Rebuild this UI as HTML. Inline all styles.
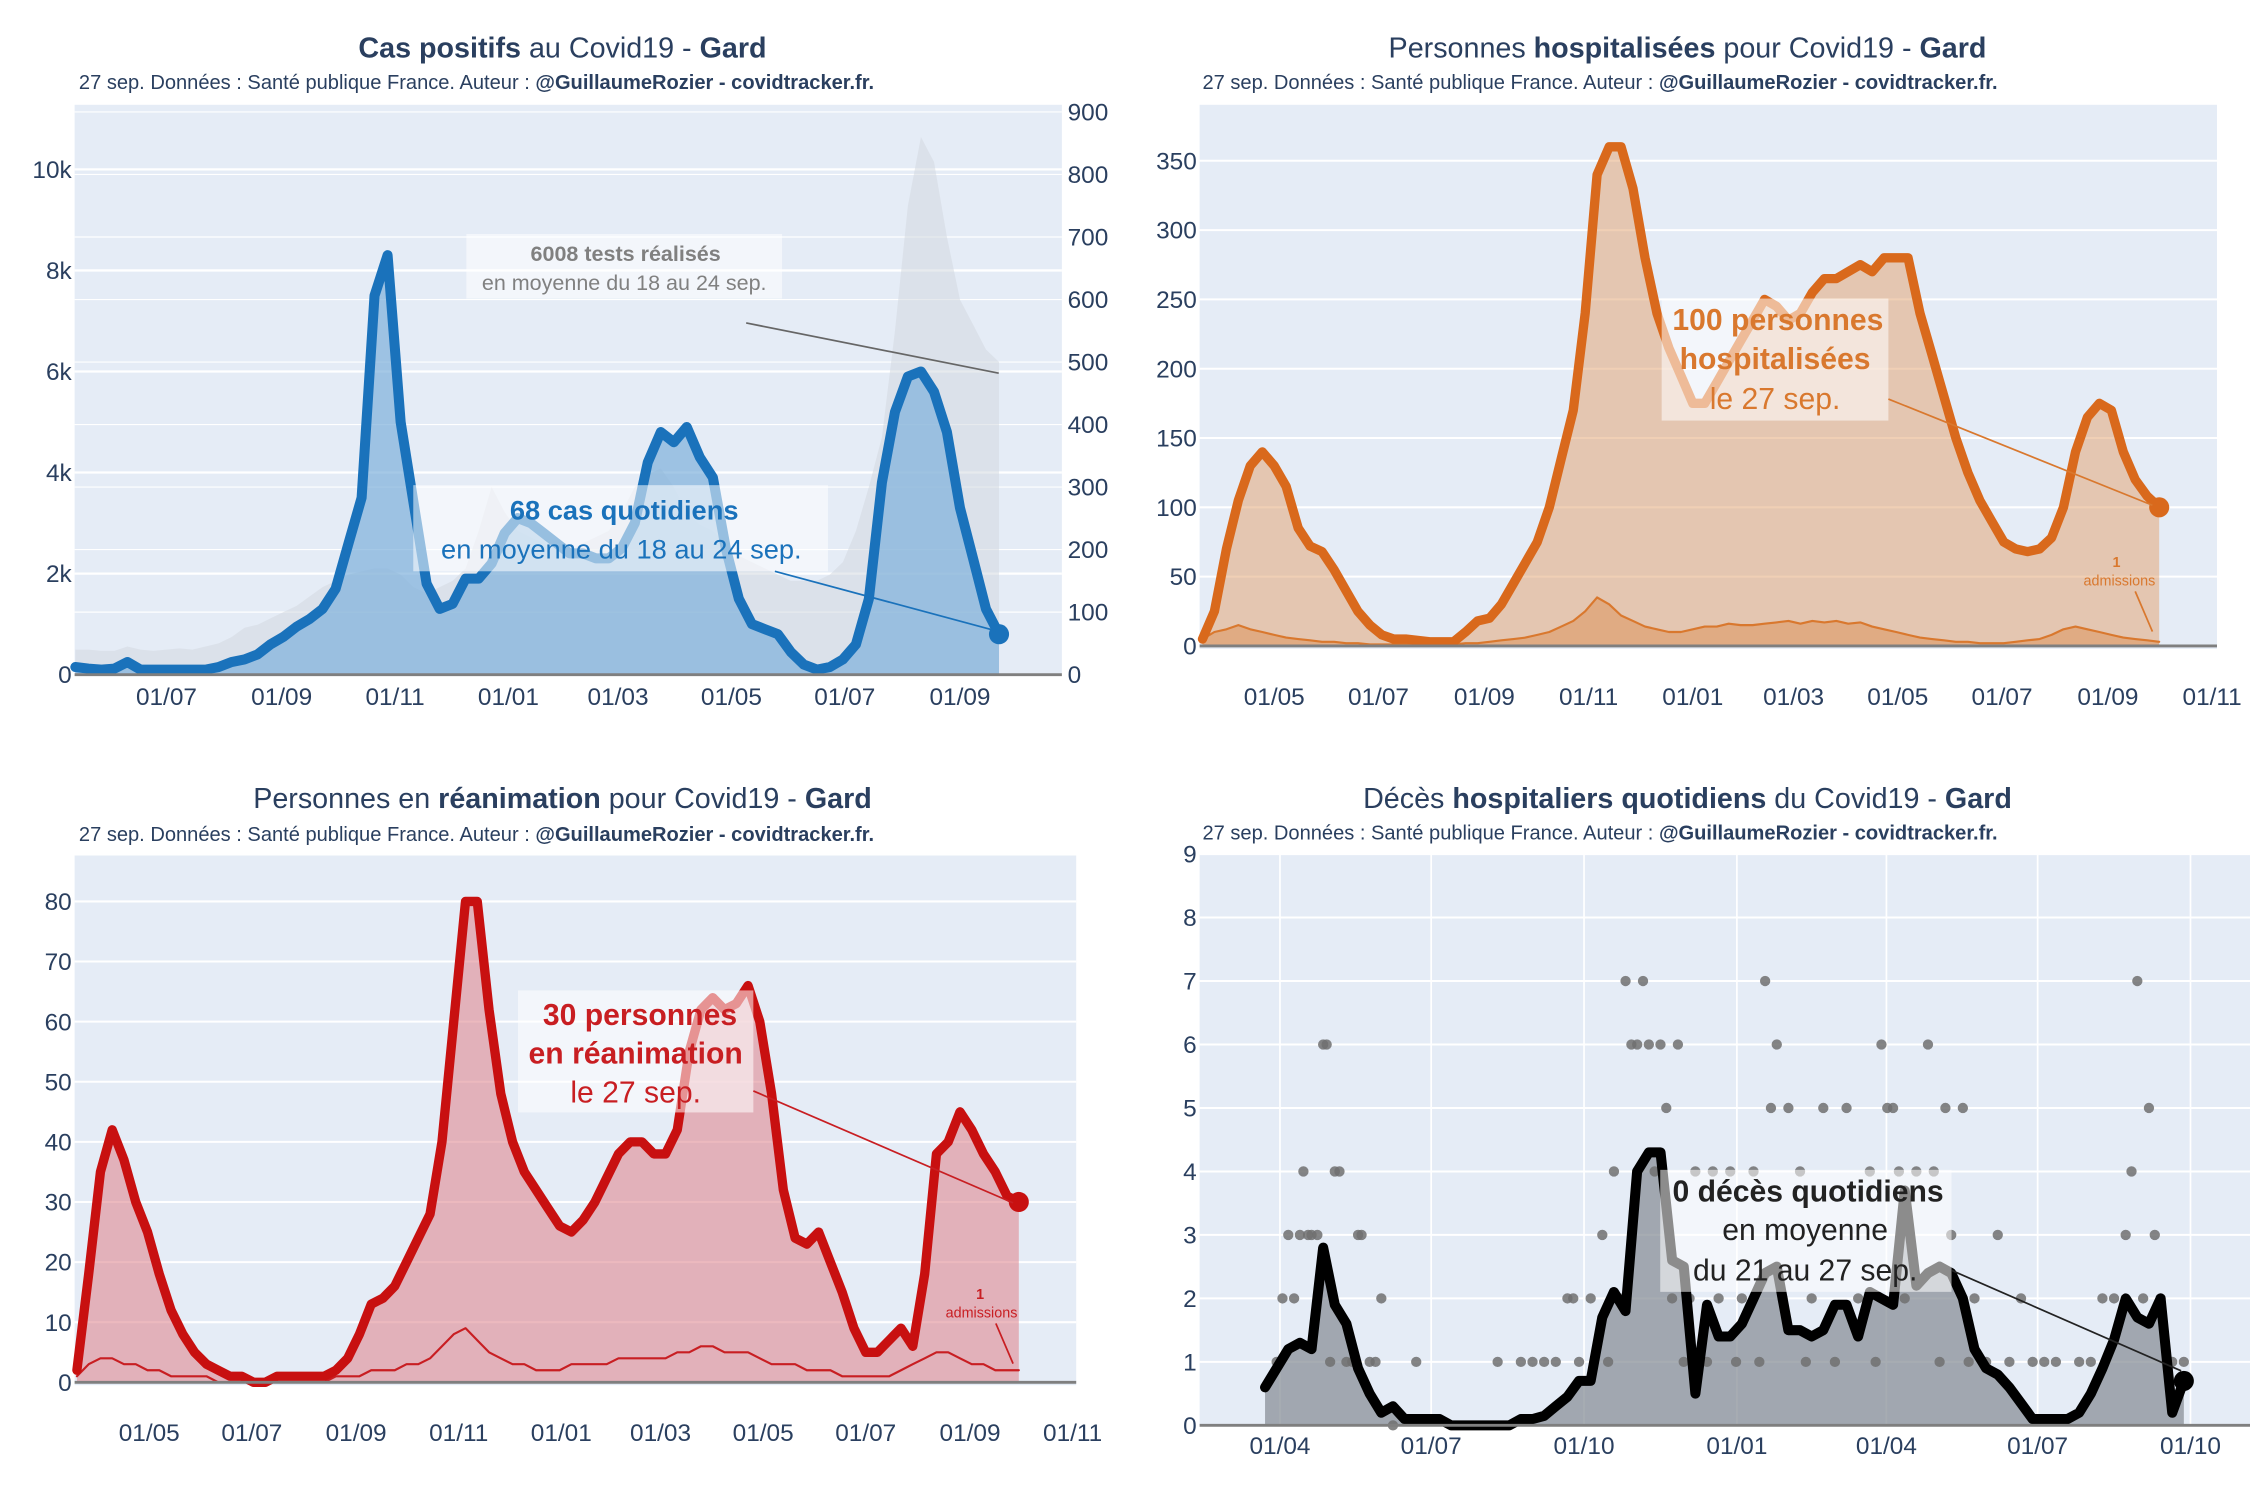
<!DOCTYPE html>
<html><head><meta charset="utf-8"><style>
html,body{margin:0;padding:0;background:#fff}
svg{display:block}
text{font-family:"Liberation Sans","DejaVu Sans",sans-serif;fill:#2a3f5f}
</style></head><body>
<svg id="svg" width="2250" height="1500" viewBox="0 0 1568 1045" preserveAspectRatio="none" xmlns="http://www.w3.org/2000/svg">
<rect x="0" y="0" width="1568" height="1045" fill="#fff"/>
<text x="392" y="40" text-anchor="middle" font-size="20"><tspan font-weight="bold">Cas positifs</tspan> au Covid19 - <tspan font-weight="bold">Gard</tspan></text>
<text x="55" y="62" font-size="14">27 sep. Données : Santé publique France. Auteur : <tspan font-weight="bold">@GuillaumeRozier - covidtracker.fr.</tspan></text>
<text x="1176" y="40" text-anchor="middle" font-size="20">Personnes <tspan font-weight="bold">hospitalisées</tspan> pour Covid19 - <tspan font-weight="bold">Gard</tspan></text>
<text x="838" y="62" font-size="14">27 sep. Données : Santé publique France. Auteur : <tspan font-weight="bold">@GuillaumeRozier - covidtracker.fr.</tspan></text>
<text x="392" y="563" text-anchor="middle" font-size="20">Personnes en <tspan font-weight="bold">réanimation</tspan> pour Covid19 - <tspan font-weight="bold">Gard</tspan></text>
<text x="55" y="586" font-size="14">27 sep. Données : Santé publique France. Auteur : <tspan font-weight="bold">@GuillaumeRozier - covidtracker.fr.</tspan></text>
<text x="1176" y="563" text-anchor="middle" font-size="20">Décès <tspan font-weight="bold">hospitaliers quotidiens</tspan> du Covid19 - <tspan font-weight="bold">Gard</tspan></text>
<text x="838" y="585" font-size="14">27 sep. Données : Santé publique France. Auteur : <tspan font-weight="bold">@GuillaumeRozier - covidtracker.fr.</tspan></text>
<g id="p1"></g>
<g id="p2"></g>
<g id="p3"></g>
<g id="p4"></g>
<g id="ann"></g>
</svg>
<script>
const casesStart = "2020-05-13";
const casesK = [0.15,0.12,0.1,0.12,0.25,0.1,0.1,0.1,0.1,0.1,0.1,0.15,0.25,0.3,0.4,0.6,0.75,0.95,1.1,1.3,1.7,2.6,3.5,7.5,8.3,5.0,3.4,1.8,1.3,1.4,1.9,1.9,2.2,2.8,3.1,3.0,2.8,2.6,2.4,2.4,2.3,2.3,2.5,3.0,4.2,4.8,4.6,4.9,4.3,3.9,2.5,1.5,1.0,0.9,0.8,0.45,0.2,0.1,0.15,0.3,0.6,1.5,3.8,5.2,5.9,6.0,5.6,4.8,3.3,2.3,1.3,0.8];
const testsH = [40,40,38,38,45,40,38,40,42,40,45,50,60,75,80,90,100,110,125,140,150,160,165,170,170,160,140,130,140,150,170,230,300,260,230,220,210,200,200,210,220,230,260,300,320,330,300,260,240,230,210,190,180,170,160,150,150,150,160,180,230,300,380,550,750,860,820,700,600,560,520,500];
const casesTickLabels = ["01/07","01/09","01/11","01/01","01/03","01/05","01/07","01/09"];
const casesTickDates = ["2020-07-01","2020-09-01","2020-11-01","2021-01-01","2021-03-01","2021-05-01","2021-07-01","2021-09-01"];
const casesYTicks = [0,2,4,6,8,10];
const testsYTicks = [0,100,200,300,400,500,600,700,800,900];

const hospStart = "2020-03-20";
const hosp = [5,25,70,105,130,140,130,115,85,72,68,55,40,25,15,8,5,5,4,3,3,3,10,18,20,30,45,60,75,100,135,170,240,340,360,360,330,280,240,215,195,175,175,190,205,220,235,250,245,235,240,255,265,265,270,275,270,280,280,280,240,210,180,150,125,105,90,75,70,68,70,78,100,140,165,175,170,140,120,108,100];
const hospAdm = [5,10,12,15,12,10,8,6,5,4,3,3,2,2,1,1,1,1,1,1,1,1,2,2,3,4,5,6,8,10,14,18,25,35,30,22,18,14,12,10,10,12,14,14,16,15,15,16,17,18,16,18,17,18,16,17,14,12,10,8,6,5,4,3,3,2,2,2,3,4,5,8,12,14,12,10,8,6,5,4,3];
const hospTickLabels = ["01/05","01/07","01/09","01/11","01/01","01/03","01/05","01/07","01/09","01/11"];
const hospTickDates = ["2020-05-01","2020-07-01","2020-09-01","2020-11-01","2021-01-01","2021-03-01","2021-05-01","2021-07-01","2021-09-01","2021-11-01"];
const hospYTicks = [0,50,100,150,200,250,300,350];

const reaStart = "2020-03-19";
const rea = [2,18,35,42,37,30,25,18,12,8,5,3,2,1,1,0,0,1,1,1,1,1,2,4,8,13,14,16,20,24,28,40,60,80,80,62,48,40,35,32,29,26,25,27,30,34,38,40,40,38,38,42,55,62,64,62,63,66,60,48,32,24,23,25,20,15,9,5,5,7,9,6,18,38,40,45,42,38,35,31,30];
const reaAdm = [1,3,4,4,3,3,2,2,1,1,1,1,0,0,0,0,0,0,0,0,0,0,1,1,1,2,2,2,3,3,4,6,8,9,7,5,4,3,3,2,2,2,3,3,3,3,4,4,4,4,4,5,5,6,6,5,5,5,4,3,3,3,2,2,2,1,1,1,1,1,2,3,4,5,5,4,3,3,2,2,2];
const reaTickLabels = hospTickLabels;
const reaTickDates = hospTickDates;
const reaYTicks = [0,10,20,30,40,50,60,70,80];

const deathStart = "2020-03-23";
const deaths = [0.6,0.9,1.2,1.3,1.2,2.8,1.9,1.6,0.9,0.5,0.2,0.3,0.1,0.1,0.1,0.1,0,0,0,0,0,0,0.1,0.1,0.15,0.3,0.45,0.7,0.7,1.7,2.1,1.8,4.0,4.3,4.3,2.6,2.5,0.5,1.9,1.4,1.4,1.6,2.0,2.4,2.5,1.5,1.5,1.4,1.5,1.9,1.9,1.4,2.1,2.0,1.9,3.7,2.2,2.4,2.5,2.4,2.0,1.2,0.9,0.8,0.6,0.35,0.1,0.1,0.1,0.1,0.2,0.5,0.9,1.35,2.0,1.7,1.6,2.0,0.2,0.7];
const deathDotWeek = [1,1.5,2,2.5,3,3.3,3.7,4,4.5,5,5.3,5.6,6,6.4,7,7.5,8,8.3,9,9.5,10,11,13,20,22,23,24,25,26,26.5,27,28,29,29.5,30,30.5,31,31.5,32,32.5,33,33.5,34,34.5,35,35.5,36,36.5,37,38,38.5,39,40,40.5,41,42,42.5,43,43.5,44,44.5,45,46,46.5,47,48,49,50,51,52,52.5,53,53.5,54,54.5,55,56,57,57.5,58,58.5,59,60,60.5,61,62,63,64,65,66,67,68,70,71,72,73,74,74.5,75,75.5,76,76.5,77,78,79];
const deathDotVal  = [1,2,3,2,3,4,3,3,3,6,6,1,4,4,1,1,3,3,1,1,2,0,1,1,1,1,1,1,2,2,1,2,3,1,4,2,7,6,6,7,6,4,6,5,2,6,1,2,4,1,4,2,4,1,2,4,1,7,5,6,2,5,4,1,2,5,1,5,2,4,1,6,5,5,4,2,4,6,4,1,5,3,5,1,2,1,3,1,2,1,1,1,1,1,2,2,3,4,7,2,5,3,2,1,1];
const deathTickLabels = ["01/04","01/07","01/10","01/01","01/04","01/07","01/10"];
const deathTickDates = ["2020-04-01","2020-07-01","2020-10-01","2021-01-01","2021-04-01","2021-07-01","2021-10-01"];
const deathYTicks = [0,1,2,3,4,5,6,7,8,9];

const NS="http://www.w3.org/2000/svg";
const DAY=86400000;
function ms(s){const p=s.split("-");return Date.UTC(+p[0],+p[1]-1,+p[2]);}
function mk(parent,tag,attrs){const e=document.createElementNS(NS,tag);for(const k in attrs)e.setAttribute(k,attrs[k]);parent.appendChild(e);return e;}
function timeScale(d0,x0,d1,x1){const a=ms(d0),b=ms(d1);return t=>x0+(t-a)/(b-a)*(x1-x0);}
function linScale(v0,y0,v1,y1){return v=>y0+(v-v0)/(v1-v0)*(y1-y0);}
function weeklyTimes(start,n){const s=ms(start);const r=[];for(let i=0;i<n;i++)r.push(s+i*7*DAY);return r;}
function linePath(xs,ys){return xs.map((x,i)=>(i?"L":"M")+x.toFixed(1)+","+ys[i].toFixed(1)).join("");}

function frame(g,x0,y0,x1,y1){
  const r=mk(g,"rect",{x:x0,y:y0,width:x1-x0,height:y1-y0,fill:"#e5ecf6"});
  
  
}
function yGrid(g,ticks,ys,x0,x1,labelX,anchor,fmt,grid,w){
  ticks.forEach(v=>{
    const y=ys(v);
    if(grid){const l=mk(g,"line",{x1:x0,x2:x1,y1:y,y2:y,stroke:"#fff","stroke-width":w||1.2});
      
      }
    const t=mk(g,"text",{x:labelX,y:y+6,"text-anchor":anchor,"font-size":"17"});
    t.textContent=fmt(v);
    
    
  });
}
function xTicks(g,labels,dates,xs,y,gridTop,gridBot){
  labels.forEach((lab,i)=>{
    const x=xs(ms(dates[i]));
    if(gridTop!==undefined){const l=mk(g,"line",{x1:x,x2:x,y1:gridTop,y2:gridBot,stroke:"#fff","stroke-width":1.2});
      
      }
    const t=mk(g,"text",{x:x,y:y,"text-anchor":"middle","font-size":"17"});
    t.textContent=lab;
    
    
  });
}
function area(g,xs,ys,base,fill,op,name){
  const d=linePath(xs,ys)+"L"+xs[xs.length-1].toFixed(1)+","+base+"L"+xs[0].toFixed(1)+","+base+"Z";
  const p=mk(g,"path",{d:d,fill:fill,"fill-opacity":op});
  
  
}
function line(g,xs,ys,stroke,w,name){
  const p=mk(g,"path",{d:linePath(xs,ys),fill:"none",stroke:stroke,"stroke-width":w,"stroke-linejoin":"round","stroke-linecap":"round"});
  
  
}
function zeroLine(g,x0,x1,y){const l=mk(g,"line",{x1:x0,x2:x1,y1:y,y2:y,stroke:"#7f7f7f","stroke-width":2});
  
  }
function endDot(g,x,y,c,r){const e=mk(g,"circle",{cx:x,cy:y,r:r,fill:c});
  
  }

(function(){
  const g=document.getElementById("p1");
  frame(g,52,73,740,470);
  const xs=timeScale("2020-07-01",116,"2021-09-01",669);
  const yL=linScale(0,470,10,118);
  const yR=linScale(0,470,900,78);
  yGrid(g,testsYTicks,yR,52,740,744,"start",v=>String(v),true,0.8);
  yGrid(g,casesYTicks,yL,52,740,50,"end",v=>v===0?"0":v+"k",true,1.6);
  const t=weeklyTimes(casesStart,casesK.length);
  const X=t.map(xs);
  area(g,X,testsH.map(yR),470,"#d3d8e0",0.55,"tests-area");
  area(g,X,casesK.map(yL),470,"#7fb0dc",0.7,"daily-cases-area");
  line(g,X,casesK.map(yL),"#1a72bb",7,"cases-line");
  zeroLine(g,52,740,470);
  xTicks(g,casesTickLabels,casesTickDates,xs,491);
  endDot(g,X[X.length-1],yL(casesK[casesK.length-1]),"#1a72bb",7);
})();
(function(){
  const g=document.getElementById("p2");
  frame(g,836,73,1545,452);
  const xs=timeScale("2020-05-01",888,"2021-09-01",1469);
  const y=linScale(0,450,350,112);
  yGrid(g,hospYTicks,y,836,1545,834,"end",v=>String(v),true,1.4);
  const t=weeklyTimes(hospStart,hosp.length);
  const X=t.map(xs);
  area(g,X,hosp.map(y),450,"#e3a878",0.55,"hosp-area");
  area(g,X,hospAdm.map(y),450,"#d9782e",0.35,"admissions-area");
  line(g,X,hospAdm.map(y),"#d9782e",1.5,"admissions-line");
  line(g,X,hosp.map(y),"#d9691c",6.5,"hosp-line");
  zeroLine(g,836,1545,450);
  xTicks(g,hospTickLabels,hospTickDates,xs,491);
  endDot(g,X[X.length-1],y(hosp[hosp.length-1]),"#d9691c",7);
})();
(function(){
  const g=document.getElementById("p3");
  frame(g,52,596,750,965);
  const xs=timeScale("2020-05-01",104,"2021-09-01",676);
  const y=linScale(0,963,80,628);
  yGrid(g,reaYTicks,y,52,750,50,"end",v=>String(v),true,1.4);
  const t=weeklyTimes(reaStart,rea.length);
  const X=t.map(xs);
  area(g,X,rea.map(y),963,"#df8b92",0.6,"rea-area");
  line(g,X,reaAdm.map(y),"#c81e22",1.5,"rea-admissions-line");
  line(g,X,rea.map(y),"#c81010",6.5,"rea-line");
  zeroLine(g,52,750,963);
  xTicks(g,reaTickLabels,reaTickDates,xs,1004);
  endDot(g,X[X.length-1],y(rea[rea.length-1]),"#c81010",7);
})();
(function(){
  const g=document.getElementById("p4");
  frame(g,836,595,1568,993);
  const xs=timeScale("2020-04-01",892,"2021-07-01",1420);
  const y=linScale(0,993,9,595);
  yGrid(g,deathYTicks,y,836,1568,834,"end",v=>String(v),true,1.4);
  xTicks(g,deathTickLabels,deathTickDates,xs,1013,595,993);
  const t=weeklyTimes(deathStart,deaths.length);
  const X=t.map(xs);
  area(g,X,deaths.map(y),993,"#8a9098",0.75,"deaths-area");
  const s=ms(deathStart);
  deathDotWeek.forEach((w,i)=>{
    const c=mk(g,"circle",{cx:xs(s+w*7*DAY),cy:y(deathDotVal[i]),r:3.6,fill:"#707070","fill-opacity":0.85});
    
    
  });
  line(g,X,deaths.map(y),"#000",7,"deaths-line");
  zeroLine(g,836,1568,993);
  endDot(g,X[X.length-1],y(deaths[deaths.length-1]),"#000",7);
})();
(function(){
  const g=document.getElementById("ann");
  function box(x,y,w,h,name){const r=mk(g,"rect",{x:x,y:y,width:w,height:h,fill:"#fff","fill-opacity":0.55});
    
    }
  function txt(x,y,s,size,color,bold,name){const t=mk(g,"text",{x:x,y:y,"text-anchor":"middle","font-size":size,"font-weight":bold?"bold":"normal"});
    t.style.fill=color;t.textContent=s;
    
    }
  function ln(x1,y1,x2,y2,c,name){const l=mk(g,"line",{x1:x1,y1:y1,x2:x2,y2:y2,stroke:c,"stroke-width":1.2});
    
    }
  box(325,163,220,45,"tests-annotation-box");
  txt(436,182,"6008 tests réalisés",15,"#808080",true,"tests-annotation-title");
  txt(435,202,"en moyenne du 18 au 24 sep.",15,"#808080",false,"tests-annotation-sub");
  ln(520,225,696,260,"#666","tests-annotation-arrow");
  box(288,338,289,60,"cases-annotation-box");
  txt(435,362,"68 cas quotidiens",19,"#1a72bb",true,"cases-annotation-title");
  txt(433,389,"en moyenne du 18 au 24 sep.",19,"#1a72bb",false,"cases-annotation-sub");
  ln(540,398,696,440,"#1a72bb","cases-annotation-arrow");
  box(1158,208,158,85,"hosp-annotation-box");
  txt(1239,230,"100 personnes",21,"#d9782e",true,"hosp-annotation-l1");
  txt(1237,257,"hospitalisées",21,"#d9782e",true,"hosp-annotation-l2");
  txt(1237,285,"le 27 sep.",21,"#d9782e",false,"hosp-annotation-l3");
  ln(1316,278,1500,352,"#d9782e","hosp-annotation-arrow");
  txt(1475,395,"1",10,"#d9782e",true,"hosp-admissions-value");
  txt(1477,408,"admissions",10,"#d9782e",false,"hosp-admissions-label");
  ln(1488,412,1500,440,"#d9782e","hosp-admissions-arrow");
  box(361,690,164,85,"rea-annotation-box");
  txt(446,714,"30 personnes",21,"#c81e22",true,"rea-annotation-l1");
  txt(443,741,"en réanimation",21,"#c81e22",true,"rea-annotation-l2");
  txt(443,768,"le 27 sep.",21,"#c81e22",false,"rea-annotation-l3");
  ln(525,760,706,838,"#c81e22","rea-annotation-arrow");
  txt(683,905,"1",10,"#c81e22",true,"rea-admissions-value");
  txt(684,918,"admissions",10,"#c81e22",false,"rea-admissions-label");
  ln(694,922,706,950,"#c81e22","rea-admissions-arrow");
  box(1157,815,203,85,"deaths-annotation-box");
  txt(1260,837,"0 décès quotidiens",21,"#222",true,"deaths-annotation-l1");
  txt(1258,864,"en moyenne",21,"#222",false,"deaths-annotation-l2");
  txt(1258,892,"du 21 au 27 sep.",21,"#222",false,"deaths-annotation-l3");
  ln(1360,885,1520,955,"#222","deaths-annotation-arrow");
})();
</script>
</body></html>
